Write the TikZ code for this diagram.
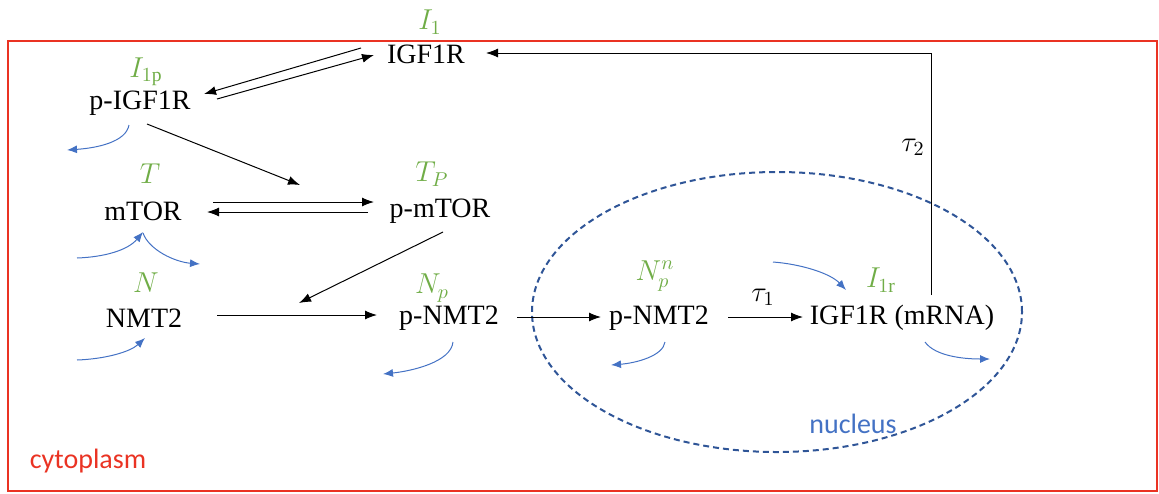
\documentclass[tikz,border=0pt]{standalone}
\usepackage{fontspec}
\setmainfont{Liberation Serif}
\newfontfamily\calib{Carlito}
\usetikzlibrary{calc,arrows.meta}
\definecolor{lgreen}{RGB}{112,173,71}
\definecolor{lblue}{RGB}{68,114,196}
\definecolor{dblue}{RGB}{47,85,151}
\definecolor{lred}{RGB}{234,51,35}
\begin{document}
\begin{tikzpicture}[x=0.5pt,y=-0.5pt,
  species/.style={inner sep=0pt,font=\fontsize{14}{16}\selectfont},
  varlab/.style={inner sep=0pt,text=lgreen,font=\fontsize{14}{16}\selectfont},
  arr/.style={-{Latex[length=6pt,width=4.5pt]},line width=0.5pt,black},
  deg/.style={-{Latex[length=5pt,width=4pt]},line width=0.5pt,lblue},
  region/.style={inner sep=0pt,font=\calib\fontsize{14}{16}\selectfont}]
\useasboundingbox (0,0) rectangle (1159,493);
% cytoplasm box
\draw[lred,line width=1pt] (8,41) rectangle (1157,491);
\node[region,text=lred] (cyto) at (88,461) {cytoplasm};
% nucleus
\draw[dblue,line width=1pt,dash pattern=on 3pt off 2pt] (777,312) ellipse [x radius=245pt/2, y radius=140pt/2];
\node[region,text=lblue] (nuc) at (853,424) {nucleus};
% species
\node[species] (igf) at (426,54) {IGF1R};
\node[species] (pigf) at (140,103) {p-IGF1R};
\node[species] (mtor) at (143,211) {mTOR};
\node[species] (pmtor) at (440,211) {p-mTOR};
\node[species] (nmt) at (144,318) {NMT2};
\node[species] (pnmt) at (449,318) {p-NMT2};
\node[species] (pnmtn) at (659,318) {p-NMT2};
\node[species] (mrna) at (902,318) {IGF1R (mRNA)};
% variable labels
\node[varlab] (lI1) at (430,22) {$I_1$};
\node[varlab] (lI1p) at (146,72) {$I_{1\mathrm{p}}$};
\node[varlab] (lT) at (150,174) {$T$};
\node[varlab] (lTP) at (432,174) {$T_P$};
\node[varlab] (lN) at (146,283) {$N$};
\node[varlab] (lNp) at (432,288) {$N_p$};
\node[varlab] (lNpn) at (655,276) {$N_p^n$};
\node[varlab] (lI1r) at (881,280) {$I_{1\mathrm{r}}$};
\node[inner sep=0pt,font=\fontsize{14}{16}\selectfont] (tau1) at (763,297) {$\tau_1$};
\node[inner sep=0pt,font=\fontsize{14}{16}\selectfont] (tau2) at (913,147) {$\tau_2$};
% black reactions
\draw[arr] ($(igf)+(-65,-6)$) -- ($(pigf)+(64,-9)$);
\draw[arr] ($(pigf)+(77,-4)$) -- ($(igf)+(-52,1)$);
\draw[arr] ($(pigf)+(7,21)$) -- ($(pmtor)+(-140,-26)$);
\draw[arr] ($(mtor)+(70,-9)$) -- ($(pmtor)+(-66,-9)$);
\draw[arr] ($(pmtor)+(-72,1)$) -- ($(mtor)+(64,1)$);
\coordinate (cat) at (299,303);
\draw[arr] ($(pmtor)+(3,21)$) -- (cat);
\draw[arr] ($(nmt)+(73,-3)$) -- ($(pnmt)+(-72,-3)$);
\draw[arr] ($(pnmt)+(68,-1)$) -- ($(pnmtn)+(-58,-1)$);
\draw[arr] ($(pnmtn)+(69,-1)$) -- ($(mrna)+(-99,-1)$);
\draw[arr,line width=0.45pt] ($(mrna)+(29,-23)$) |- ($(igf)+(60,-1)$);
% blue production / degradation
\coordinate (d1) at (67,150);
\draw[deg] ($(pigf)+(-11,22)$) .. controls (126,142) and (97,148) .. (d1);
\coordinate (s1) at (77,258);
\draw[deg] (s1) .. controls (105,257) and (128,250) .. ($(mtor)+(0,21)$);
\coordinate (d2) at (200,264);
\draw[deg] ($(mtor)+(0,22)$) .. controls (149,250) and (175,262) .. (d2);
\coordinate (s2) at (77,360);
\draw[deg] (s2) .. controls (105,359) and (130,352) .. ($(nmt)+(1,20)$);
\coordinate (d3) at (383,374);
\draw[deg] ($(pnmt)+(4,24)$) .. controls (451,362) and (412,371) .. (d3);
\coordinate (s3) at (773,262);
\draw[deg] (s3) .. controls (800,264) and (830,273) .. ($(mrna)+(-56,-28)$);
\coordinate (d4) at (611,365);
\draw[deg] ($(pnmtn)+(6,24)$) .. controls (663,356) and (636,363) .. (d4);
\coordinate (d5) at (990,359);
\draw[deg] ($(mrna)+(23,24)$) .. controls (935,356) and (963,359) .. (d5);
\end{tikzpicture}
\end{document}
